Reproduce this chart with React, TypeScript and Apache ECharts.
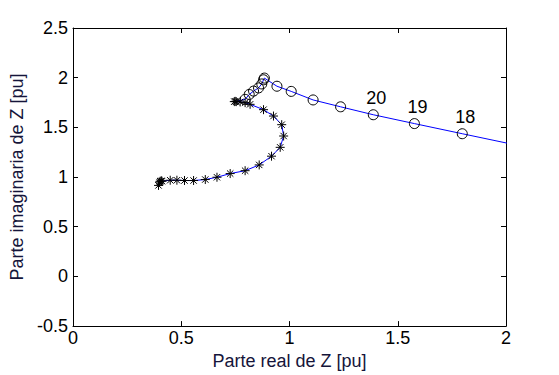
import React, { useEffect, useRef } from "react";
import * as echarts from "echarts";

// Trajectory part 1 (asterisks)
const starX = [0.395, 0.400, 0.403, 0.408, 0.411, 0.449, 0.480, 0.515, 0.557, 0.611, 0.665, 0.726, 0.795, 0.860, 0.917, 0.957, 0.973, 0.964, 0.926, 0.880, 0.818, 0.795, 0.772, 0.754, 0.749, 0.745];
const starY = [0.916, 0.949, 0.958, 0.962, 0.958, 0.968, 0.968, 0.965, 0.965, 0.975, 0.998, 1.035, 1.064, 1.122, 1.210, 1.299, 1.413, 1.527, 1.614, 1.678, 1.732, 1.749, 1.756, 1.759, 1.762, 1.759];

// Trajectory part 2 (circles)
const circX = [0.795, 0.814, 0.834, 0.857, 0.872, 0.880, 0.884, 0.942, 1.008, 1.109, 1.236, 1.387, 1.577, 1.798];
const circY = [1.782, 1.831, 1.865, 1.897, 1.937, 1.979, 1.996, 1.914, 1.862, 1.776, 1.707, 1.627, 1.538, 1.436];
const circLabels = ["", "", "", "", "", "", "", "", "", "", "", "20", "19", "18"];

// Line continues past the right edge of the axes
const tailX = [2.25];
const tailY = [1.229];

const xTicks = [0, 0.5, 1, 1.5, 2];
const yTicks = [-0.5, 0, 0.5, 1, 1.5, 2, 2.5];

const FONT = "'Liberation Sans', Arial, Helvetica, sans-serif";
const NAME_COLOR = "#15153a";
const ASTERISK = "path://M0,-1L0,1M-1,0L1,0M-0.707,-0.707L0.707,0.707M-0.707,0.707L0.707,-0.707";

export default function App() {
  const ref = useRef<HTMLDivElement>(null);
  useEffect(() => {
    if (!ref.current) return;
    const chart = echarts.init(ref.current, undefined, { renderer: "svg" });
    const lineData: number[][] = [];
    starX.forEach((x, i) => lineData.push([x, starY[i]]));
    circX.forEach((x, i) => lineData.push([x, circY[i]]));
    tailX.forEach((x, i) => lineData.push([x, tailY[i]]));

    const tickStyle = { show: true, inside: true, length: 5, lineStyle: { color: "#000", width: 1 } };
    const axisLine = { show: true, onZero: false, lineStyle: { color: "#000", width: 1 } };

    chart.setOption({
      animation: false,
      backgroundColor: "#fff",
      textStyle: { fontFamily: FONT },
      grid: { left: 73, right: 53, top: 28, bottom: 43, containLabel: false },
      xAxis: [
        {
          type: "value",
          min: xTicks[0],
          max: xTicks[xTicks.length - 1],
          interval: 0.5,
          position: "bottom",
          axisLine,
          axisTick: tickStyle,
          splitLine: { show: false },
          axisLabel: { color: "#000", fontSize: 18, fontFamily: FONT, margin: 3 },
          name: "Parte real de Z [pu]",
          nameLocation: "middle",
          nameGap: 23,
          nameTextStyle: { color: NAME_COLOR, fontSize: 18, fontFamily: FONT, verticalAlign: "top" },
        },
        {
          type: "value",
          min: xTicks[0],
          max: xTicks[xTicks.length - 1],
          interval: 0.5,
          position: "top",
          axisLine,
          axisTick: tickStyle,
          splitLine: { show: false },
          axisLabel: { show: false },
        },
      ],
      yAxis: [
        {
          type: "value",
          min: yTicks[0],
          max: yTicks[yTicks.length - 1],
          interval: 0.5,
          position: "left",
          axisLine,
          axisTick: tickStyle,
          splitLine: { show: false },
          axisLabel: { color: "#000", fontSize: 18, fontFamily: FONT, margin: 5 },
          name: "Parte imaginaria de Z [pu]",
          nameLocation: "middle",
          nameGap: 43,
          nameTextStyle: { color: NAME_COLOR, fontSize: 18, fontFamily: FONT },
        },
        {
          type: "value",
          min: yTicks[0],
          max: yTicks[yTicks.length - 1],
          interval: 0.5,
          position: "right",
          axisLine,
          axisTick: tickStyle,
          splitLine: { show: false },
          axisLabel: { show: false },
        },
      ],
      series: [
        {
          type: "line",
          data: lineData,
          symbol: "none",
          smooth: false,
          clip: true,
          lineStyle: { color: "#0000ff", width: 1 },
          z: 2,
        },
        {
          type: "scatter",
          data: starX.map((x, i) => [x, starY[i]]),
          symbol: ASTERISK,
          symbolSize: 9,
          itemStyle: { color: "none", borderColor: "#000", borderWidth: 1, opacity: 1 },
          z: 3,
        },
        {
          type: "scatter",
          data: circX.map((x, i) => ({
            value: [x, circY[i]],
            label: {
              show: circLabels[i] !== "",
              formatter: circLabels[i],
              position: "top",
              distance: 2,
              offset: [3, 0],
              color: "#000",
              fontSize: 18,
              fontFamily: FONT,
            },
          })),
          symbol: "circle",
          symbolSize: 10,
          itemStyle: { color: "rgba(0,0,0,0)", borderColor: "#000", borderWidth: 1, opacity: 1 },
          z: 4,
        },
      ],
    });
    return () => chart.dispose();
  }, []);
  return <div ref={ref} style={{ width: 559, height: 375, position: "absolute", left: 0, top: 0 }} />;
}
